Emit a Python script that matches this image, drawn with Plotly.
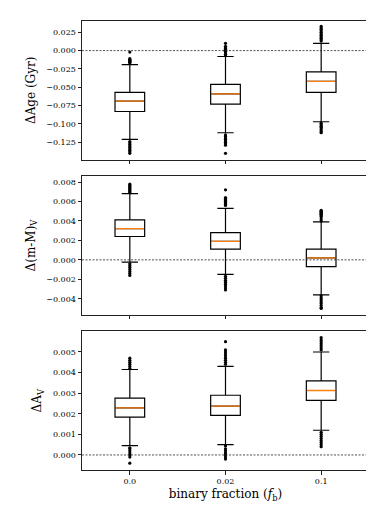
import plotly.graph_objs as go
from plotly.subplots import make_subplots

# categories (binary fraction)
fb_labels = ['0.0', '0.02', '0.1']
fb_pos = [0, 1, 2]

# panel 1: delta age (Gyr)
age_q1 = [-0.083, -0.073, -0.057]
age_med = [-0.069, -0.059, -0.042]
age_q3 = [-0.057, -0.046, -0.029]
age_lo = [-0.121, -0.112, -0.097]
age_hi = [-0.019, -0.008, 0.010]
age_fliers = [
    [-0.002, -0.011, -0.012, -0.013, -0.014, -0.015, -0.016, -0.017,
     -0.124, -0.126, -0.128, -0.130, -0.132, -0.134, -0.136, -0.138, -0.140],
    [0.010, 0.006, 0.004, 0.003, 0.002, 0.001, 0.000, -0.001, -0.003, -0.005, -0.007,
     -0.115, -0.117, -0.119, -0.121, -0.123, -0.125, -0.127, -0.129, -0.140],
    [0.033, 0.031, 0.029, 0.027, 0.025, 0.023, 0.021, 0.019, 0.017, 0.015, 0.013,
     -0.099, -0.101, -0.103, -0.105, -0.107, -0.109, -0.111, -0.112],
]

# panel 2: delta distance modulus
dm_q1 = [0.0024, 0.0011, -0.0007]
dm_med = [0.0032, 0.0019, 0.0002]
dm_q3 = [0.0041, 0.0028, 0.0011]
dm_lo = [-0.00024, -0.0015, -0.0036]
dm_hi = [0.0068, 0.0053, 0.0039]
dm_fliers = [
    [0.0078, 0.0077, 0.0076, 0.0075, 0.0074, 0.0073, 0.0072, 0.0071, 0.0070, 0.0069,
     -0.0004, -0.0006, -0.0008, -0.0010, -0.0012, -0.0014, -0.0016],
    [0.0072, 0.0064, 0.0063, 0.0062, 0.0061, 0.0060, 0.0059, 0.0058, 0.0057, 0.0056,
     -0.0017, -0.0019, -0.0021, -0.0023, -0.0025, -0.0027, -0.0029, -0.0031],
    [0.0051, 0.0050, 0.0049, 0.0048, 0.0047, 0.0046, 0.0045, 0.0044, 0.0042, 0.0040,
     -0.0037, -0.0039, -0.0041, -0.0043, -0.0045, -0.0047, -0.0049, -0.0050],
]

# panel 3: delta extinction
av_q1 = [0.00184, 0.00192, 0.00265]
av_med = [0.00229, 0.00237, 0.00313]
av_q3 = [0.00276, 0.0029, 0.0036]
av_lo = [0.00045, 0.0005, 0.0012]
av_hi = [0.00415, 0.0043, 0.0050]
av_fliers = [
    [0.0047, 0.0046, 0.0045, 0.0044, 0.0043, 0.0042,
     0.00035, 0.0003, 0.0002, 0.0001, 0.0000, -0.0001, -0.0004],
    [0.0055, 0.0051, 0.0050, 0.0049, 0.0048, 0.0047, 0.0046, 0.0045, 0.0044,
     0.00044, 0.0003, 0.0002, 0.0001, 0.0000, -0.0001, -0.0002],
    [0.0057, 0.0056, 0.0055, 0.0054, 0.0053, 0.0052, 0.0051,
     0.0011, 0.0010, 0.0009, 0.0008, 0.0007, 0.0006, 0.0005, 0.0004],
]

panels = [
    (age_q1, age_med, age_q3, age_lo, age_hi, age_fliers, 'ΔAge (Gyr)',
     [-0.125, -0.1, -0.075, -0.05, -0.025, 0, 0.025], [-0.1486, 0.0404]),
    (dm_q1, dm_med, dm_q3, dm_lo, dm_hi, dm_fliers, 'Δ(m-M)<sub>V</sub>',
     [-0.004, -0.002, 0, 0.002, 0.004, 0.006, 0.008], [-0.00565, 0.0086]),
    (av_q1, av_med, av_q3, av_lo, av_hi, av_fliers, 'ΔA<sub>V</sub>',
     [0, 0.001, 0.002, 0.003, 0.004, 0.005], [-0.00073, 0.0060]),
]

BOX_W = 0.31
FONT = 'DejaVu Serif'

fig = make_subplots(rows=3, cols=1, shared_xaxes=False, vertical_spacing=0.037)

for r, (q1, med, q3, lo, hi, fl, title, tv, yr) in enumerate(panels, start=1):
    fig.add_trace(go.Box(
        x=fb_pos, q1=q1, median=med, q3=q3, lowerfence=lo, upperfence=hi,
        width=BOX_W, whiskerwidth=0.55, fillcolor='white',
        line=dict(color='black', width=1.2), boxpoints=False,
        hoverinfo='skip', showlegend=False,
    ), row=r, col=1)
    # orange median drawn as a flat box
    fig.add_trace(go.Box(
        x=fb_pos, q1=med, median=med, q3=med, lowerfence=med, upperfence=med,
        width=BOX_W * 0.97, whiskerwidth=0, fillcolor='rgba(0,0,0,0)',
        line=dict(color='#ff7f0e', width=1.3), boxpoints=False,
        hoverinfo='skip', showlegend=False,
    ), row=r, col=1)
    fx, fy = [], []
    for i, vals in enumerate(fl):
        fx += [fb_pos[i]] * len(vals)
        fy += vals
    fig.add_trace(go.Scatter(
        x=fx, y=fy, mode='markers', marker=dict(color='black', size=3.2),
        hoverinfo='skip', showlegend=False,
    ), row=r, col=1)
    fig.add_hline(y=0, line=dict(color='#222', width=0.8, dash='2px,1.5px'),
                  layer='above', row=r, col=1)
    fig.update_yaxes(
        title_text=title, title_font=dict(size=12, family=FONT, color='black'),
        title_standoff=8,
        range=yr, tickvals=tv, tickformat='.3f',
        showline=True, mirror=True, linecolor='#222', linewidth=1,
        ticks='outside', ticklen=3.5, tickcolor='#222',
        showgrid=False, zeroline=False,
        tickfont=dict(size=8, family=FONT, color='black'),
        row=r, col=1)
    fig.update_xaxes(
        range=[-0.5, 2.5], tickvals=fb_pos, ticktext=fb_labels,
        showticklabels=(r == 3),
        showline=True, mirror=True, linecolor='#222', linewidth=1,
        ticks='outside', ticklen=3.5, tickcolor='#222',
        showgrid=False, zeroline=False,
        tickfont=dict(size=8, family=FONT, color='black'),
        row=r, col=1)

fig.update_xaxes(title_text='binary fraction (<i>f</i><sub>b</sub>)',
                 title_font=dict(size=12, family=FONT, color='black'),
                 title_standoff=4, row=3, col=1)

fig.update_layout(
    width=374, height=509,
    margin=dict(l=74, r=13, t=13, b=47),
    paper_bgcolor='white', plot_bgcolor='white',
    font=dict(family=FONT, color='black'),
    boxmode='overlay',
)

fig.write_html("out.html")
